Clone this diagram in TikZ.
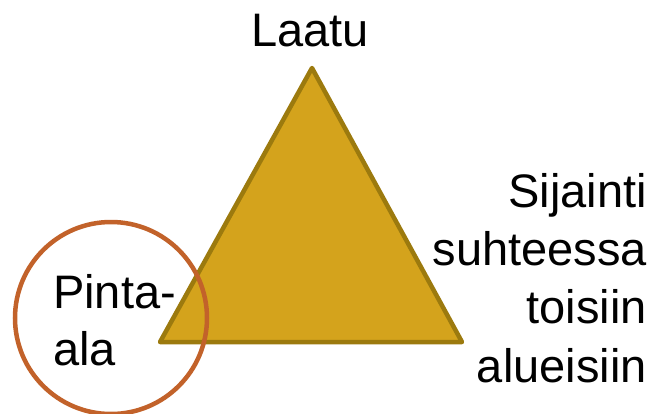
\documentclass[tikz,border=0pt]{standalone}
\usepackage{fontspec}
\setmainfont{Liberation Sans}
\definecolor{trifill}{HTML}{D4A31C}
\definecolor{triedge}{HTML}{9C7A0E}
\definecolor{circedge}{HTML}{C2622A}
\begin{document}
\begin{tikzpicture}[x=1pt,y=-1pt,
  lbl/.style={font=\fontsize{47}{58}\selectfont, inner sep=0pt}]
\useasboundingbox (0,0) rectangle (654,413);
\coordinate (apex) at (312,68);
\coordinate (bl) at (160,342);
\coordinate (br) at (462,342);
\draw[fill=trifill, draw=triedge, line width=4.5pt, line join=round] (apex) -- (br) -- (bl) -- cycle;
\node[draw=circedge, line width=4.5pt, circle, minimum size=192pt, inner sep=0pt] (area) at (111,318) {};
\node[lbl, anchor=base] (q) at (310,46) {Laatu};
\node[lbl, anchor=base west] (p1) at (53,308) {Pinta-};
\node[lbl, anchor=base west] (p2) at (53,365) {ala};
\node[lbl, anchor=base east] (s1) at (647,207) {Sijainti};
\node[lbl, anchor=base east] (s2) at (647,265) {suhteessa};
\node[lbl, anchor=base east] (s3) at (647,323) {toisiin};
\node[lbl, anchor=base east] (s4) at (647,382) {alueisiin};
\end{tikzpicture}
\end{document}
